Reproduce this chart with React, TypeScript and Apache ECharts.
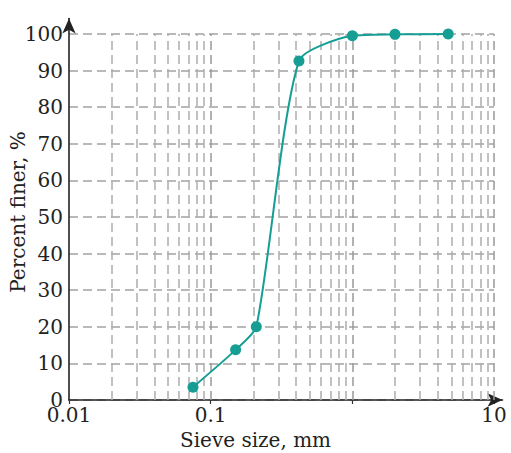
import React, { useEffect, useRef } from "react";
import * as echarts from "echarts";

const sieveSizes = [0.075, 0.15, 0.21, 0.42, 1.0, 2.0, 4.75];
const percentFiner = [3.5, 13.7, 20, 92.6, 99.5, 99.9, 100];
const majorX = [0.1, 1, 10];
const minorX = [0.02, 0.03, 0.04, 0.05, 0.06, 0.07, 0.08, 0.09, 0.2, 0.3, 0.4, 0.5, 0.6, 0.7, 0.8, 0.9, 2, 3, 4, 5, 6, 7, 8, 9];
const xTickLabels: Record<string, string> = { "0.01": "0.01", "0.1": "0.1", "1": "", "10": "10" };
const xTitle = "Sieve size, mm";
const yTitle = "Percent finer, %";

const FONT = '"DejaVu Serif", serif';
const TEXT = "#222";
const TEAL = "#169e95";

export default function App() {
  const ref = useRef<HTMLDivElement>(null);
  useEffect(() => {
    document.body.style.margin = "0";
    const chart = echarts.init(ref.current!, undefined, { renderer: "svg" });
    const gridMain = { left: 69, top: 34, width: 425, height: 366 };
    const gridArrow = { left: 69, top: 18.5, width: 433.5, height: 381.5 };
    chart.setOption({
      animation: false,
      grid: [gridMain, gridArrow],
      xAxis: [
        {
          type: "log",
          logBase: 10,
          min: 0.01,
          max: 10,
          gridIndex: 0,
          axisLine: { show: false },
          axisTick: { show: true, length: 4, inside: false, lineStyle: { color: "#333", width: 1.2 } },
          axisLabel: {
            margin: 7,
            lineHeight: 16,
            fontFamily: FONT,
            fontSize: 20,
            color: TEXT,
            formatter: (v: number) => {
              const key = String(+v.toPrecision(6));
              return key in xTickLabels ? xTickLabels[key] : "";
            },
          },
          splitLine: { show: false },
        },
        {
          type: "value",
          gridIndex: 1,
          min: 0,
          max: 1,
          axisLine: {
            show: true,
            symbol: ["none", "arrow"],
            symbolSize: [10, 15],
            lineStyle: { color: "#222", width: 1.6 },
          },
          axisTick: { show: false },
          axisLabel: { show: false },
          splitLine: { show: false },
        },
      ],
      yAxis: [
        {
          type: "value",
          gridIndex: 0,
          min: 0,
          max: 100,
          interval: 10,
          axisLine: { show: false },
          axisTick: { show: false },
          axisLabel: { margin: 6, lineHeight: 14, fontFamily: FONT, fontSize: 20, color: TEXT },
          splitLine: { show: true, lineStyle: { color: "#a3a3a3", type: [9, 5], width: 1.5 } },
        },
        {
          type: "value",
          gridIndex: 1,
          min: 0,
          max: 1,
          axisLine: {
            show: true,
            symbol: ["none", "arrow"],
            symbolSize: [10, 15],
            lineStyle: { color: "#222", width: 1.6 },
          },
          axisTick: { show: false },
          axisLabel: { show: false },
          splitLine: { show: false },
        },
      ],
      series: [
        {
          type: "line",
          xAxisIndex: 0,
          yAxisIndex: 0,
          data: [],
          z: 1,
          silent: true,
          markLine: {
            silent: true,
            symbol: "none",
            label: { show: false },
            precision: 3,
            lineStyle: { color: "#adadad", type: [9, 5], width: 1.5 },
            data: minorX.map((v) => ({ xAxis: v })),
          },
        },
        {
          type: "line",
          xAxisIndex: 0,
          yAxisIndex: 0,
          data: [],
          z: 1,
          silent: true,
          markLine: {
            silent: true,
            symbol: "none",
            label: { show: false },
            precision: 3,
            lineStyle: { color: "#999999", type: [9, 5], width: 1.5 },
            data: majorX.map((v) => ({ xAxis: v })),
          },
        },
        {
          type: "line",
          xAxisIndex: 0,
          yAxisIndex: 0,
          z: 5,
          data: sieveSizes.map((s, i) => [s, percentFiner[i]]),
          smooth: 0.22,
          symbol: "circle",
          symbolSize: 11,
          lineStyle: { color: TEAL, width: 2 },
          itemStyle: { color: TEAL },
        },
      ],
      graphic: [
        {
          type: "text",
          x: 255.5,
          y: 440,
          style: { text: xTitle, font: `20px ${FONT}`, fill: TEXT, align: "center", verticalAlign: "middle" },
        },
        {
          type: "text",
          x: 18,
          y: 212,
          rotation: Math.PI / 2,
          style: { text: yTitle, font: `20px ${FONT}`, fill: TEXT, align: "center", verticalAlign: "middle" },
        },
      ],
    });
    return () => chart.dispose();
  }, []);
  return <div ref={ref} style={{ width: 511, height: 453 }} />;
}
